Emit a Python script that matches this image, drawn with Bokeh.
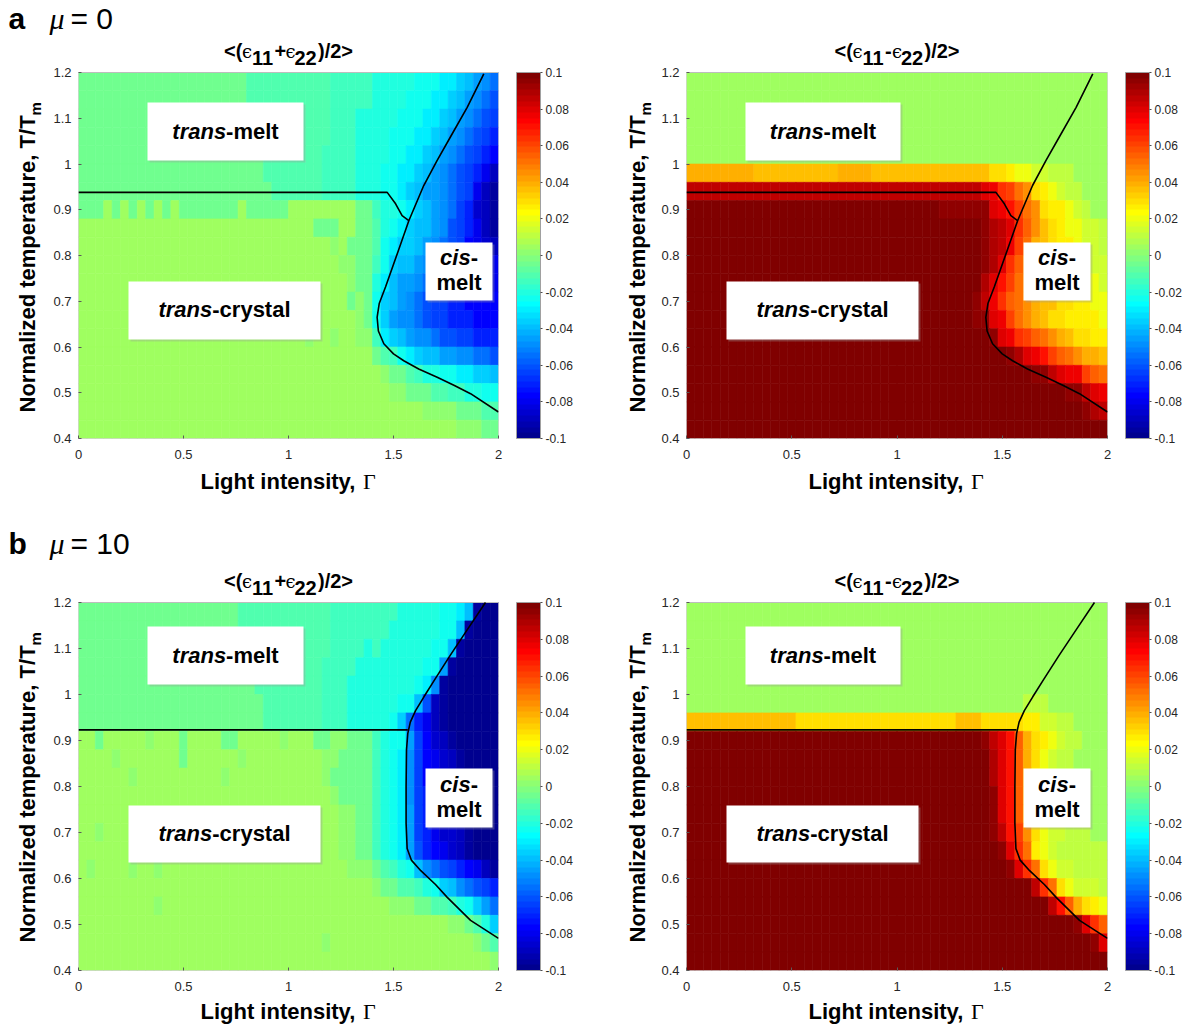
import math
from bokeh.plotting import figure
from bokeh.models import (LinearColorMapper, ColorBar, FixedTicker, Label,
                          ColumnDataSource, Range1d)
from bokeh.layouts import row, column
from bokeh.embed import file_html
from bokeh.resources import INLINE
from bokeh.core.properties import value

FONT = "Liberation Sans"
SHIFT = 0.35   # measured: an 'alphabetic' text lands this many em below the requested point

# ---------------------------------------------------------------- data
# grid: 50 columns of Gamma (0..2, step 0.04), 20 rows of T/Tm (1.2..0.4, step 0.04), top row first
G_MIN, G_MAX, G_STEP = 0.0, 2.0, 0.04
T_MIN, T_MAX, T_STEP = 0.4, 1.2, 0.04
# value code: index in CODE * 0.005 - 0.1   ('u' = 0, 'a' = -0.1, 'O' = +0.1)
CODE = "abcdefghijklmnopqrstuvwxyzABCDEFGHIJKLMNO"

SUM_MU0 = [
    "t"*20 + "s"*10 + "r"*5 + "qqqqqpppoonmlkj",
    "t"*20 + "s"*10 + "r"*5 + "qqqqpppoonmlkji",
    "t"*21 + "s"*9 + "r"*3 + "q"*2 + "qqqpppoonmlkjih",
    "t"*21 + "s"*9 + "r"*3 + "q"*2 + "qqpppoonmlkjihg",
    "t"*22 + "s"*7 + "r"*4 + "q"*2 + "qqppoonmlkjihgf",
    "t"*22 + "s"*7 + "r"*4 + "q"*2 + "qppoonmlkjihgec",
    "t"*23 + "s"*6 + "r"*4 + "q"*2 + "qpponmllkjihecb",
    "ttt" + "vt"*4 + "v" + "t"*7 + "v" + "t"*5 + "v"*8 + "tt" + "rqqponmlkjhgdcb",
    "v"*28 + "ttt" + "vv" + "tt" + "sqponmmlkihgecb",
    "v"*30 + "u" + "v" + "ttt" + "sponnmlkjihfedc",
    "v"*31 + "uu" + "tt" + "rpnmmlkjihggffe",
    "v"*32 + "u" + "tt" + "qomllkjihggfffe",
    "v"*32 + "tut" + "pnmlkjihhggffff",
    "v"*33 + "ut" + "pnlkkjihhgggfff",
    "v"*27 + "u" + "vv" + "u" + "vv" + "uu" + "ronmlkkjiihhggg",
    "v"*35 + "tsrponmmllkkjji",
    "v"*35 + "vuttsrqqppoonnm",
    "v"*35 + "vvuutttssrrqqpp",
    "v"*35 + "vvvvvvuuuutttss",
    "v"*35 + "vvvvvvvvvvuuutt",
]

DIFF_MU0 = [
    "v"*50,
    "v"*50,
    "v"*50,
    "v"*50,
    "v"*50,
    "C"*8 + "B"*10 + "C"*4 + "B"*13 + "BAAzyyxxwwwvvvv",
    "L"*35 + "KJHGEDAzyxwwvvv",
    "O"*30 + "N"*5 + "NKJIGEDAzzyxwvv",
    "O"*35 + "NMLKHFDBAzyyxxw",
    "O"*35 + "NMLJGECBAzzyxxw",
    "O"*35 + "NMKHFDCBAzzyyxx",
    "O"*35 + "MKIGEDCBAAzzyyx",
    "O"*34 + "N" + "LJHFEDCBBAAzzyy",
    "O"*34 + "N" + "NKJGEDCBAAzzzzy",
    "O"*35 + "ONKJHGFEDCBAAzz",
    "O"*35 + "OOONMKJIGFEDCCB",
    "O"*35 + "OOOOOONNLKJJGFE",
    "O"*35 + "OOOOOOOOOONNLKJ",
    "O"*35 + "OOOOOOOOOOOONML",
    "O"*50,
]

SUM_MU10 = [
    "t"*19 + "s"*11 + "r"*5 + "rrrqqqqqppombaa",
    "t"*19 + "s"*11 + "r"*5 + "rrqqqqqqppmbaaa",
    "t"*20 + "s"*10 + "r"*4 + "q" + "rqqqqqqppmbaaaa",
    "t"*20 + "s"*9 + "r"*4 + "q"*2 + "qqqqqqpplbaaaaa",
    "t"*21 + "s"*8 + "r"*3 + "q"*3 + "qqqqqpokbaaaaaa",
    "t"*22 + "s"*7 + "r"*3 + "q"*3 + "qqqppmicbaaaaaa",
    "t"*22 + "s"*7 + "r"*3 + "q"*3 + "qqpnjgecbaaaaaa",
    "vv" + "t" + "v"*5 + "u" + "v"*3 + "t" + "v"*4 + "tt" + "v"*5 + "u" + "v"*3 + "tt" + "uu" + "ttt" + "rqpplhfdcbaaaaa",
    "v"*4 + "u" + "v"*7 + "t" + "v"*6 + "u" + "v"*9 + "uu" + "tttt" + "rqpokhfedcbaaaa",
    "v"*6 + "u" + "v"*10 + "u" + "v"*11 + "u" + "t"*5 + "rqpokhfedcbaaaa",
    "v"*30 + "u" + "tttt" + "rqpokhgedcbaaaa",
    "v"*31 + "uu" + "tt" + "rqpolhgedcbbaaa",
    "vv" + "u" + "v"*28 + "uu" + "tt" + "rqpolhgeddcbaaa",
    "v"*31 + "uu" + "tt" + "rqpoligfedcbaaa",
    "v" + "u" + "v"*4 + "u" + "vv" + "u" + "v"*22 + "uuu" + "tsrqpmkjihgfecb",
    "v"*35 + "uttssrqpnmkjihg",
    "v"*9 + "u" + "v"*25 + "vvuuuttssrqpnlj",
    "v"*35 + "vvvvvvvvvuutsqn",
    "v"*29 + "u" + "v"*5 + "vvvvvvvvvvvvuts",
    "v"*35 + "vvvvvvvvvvvvvvu",
]

DIFF_MU10 = [
    "v"*50,
    "v"*50,
    "v"*50,
    "v"*50,
    "v"*50,
    "v"*35 + "vvvvvwwwvvvvvvv",
    "B"*13 + "A"*19 + "B"*3 + "AAAAAzzxxwwvvvv",
    "O"*35 + "NLKIFCAzyxwwvvv",
    "O"*35 + "OMKIFCAyxwwvvvv",
    "O"*35 + "OMKIFCzyxwwvvvv",
    "O"*35 + "ONKIFCzyxwwvvvv",
    "O"*35 + "ONKIFCzyxwwwvvv",
    "O"*35 + "ONLIGDAyxxwwwvv",
    "O"*35 + "OONKHEzyxwwwwww",
    "O"*35 + "OOONKHEAyxxwwww",
    "O"*35 + "OOOOOOLHEAyxxxw",
    "O"*35 + "OOOOOOOOLIFCAzy",
    "O"*35 + "OOOOOOOOOOONKHF",
    "O"*35 + "OOOOOOOOOOOOONK",
    "O"*50,
]

# phase boundaries (Gamma, T/Tm)
MU0_BOUND_G = [1.93, 1.851, 1.771, 1.708, 1.644, 1.573, 1.518, 1.462, 1.432, 1.422, 1.428, 1.454, 1.50, 1.549, 1.62, 1.708, 1.79, 1.867, 2.0]
MU0_BOUND_T = [1.197, 1.124, 1.059, 1.008, 0.953, 0.876, 0.804, 0.731, 0.695, 0.665, 0.635, 0.607, 0.585, 0.570, 0.552, 0.534, 0.516, 0.498, 0.458]
MU0_SPLIT_G = [0.0, 1.47, 1.51, 1.541, 1.573]
MU0_SPLIT_T = [0.938, 0.938, 0.913, 0.887, 0.876]

MU10_BOUND_G = [1.938, 1.85, 1.77, 1.70, 1.645, 1.605, 1.58, 1.568, 1.562, 1.560, 1.560, 1.565, 1.585, 1.63, 1.70, 1.756, 1.867, 2.0]
MU10_BOUND_T = [1.2, 1.14, 1.085, 1.035, 0.995, 0.965, 0.94, 0.915, 0.88, 0.80, 0.72, 0.665, 0.64, 0.617, 0.587, 0.559, 0.509, 0.47]
MU10_SPLIT_G = [0.0, 1.568]
MU10_SPLIT_T = [0.923, 0.923]

X_TICKS = [0, 0.5, 1, 1.5, 2]
X_TICK_LABELS = ["0", "0.5", "1", "1.5", "2"]
Y_TICKS = [0.4, 0.5, 0.6, 0.7, 0.8, 0.9, 1.0, 1.1, 1.2]
Y_TICK_LABELS = ["0.4", "0.5", "0.6", "0.7", "0.8", "0.9", "1", "1.1", "1.2"]
CB_TICKS = [-0.1, -0.08, -0.06, -0.04, -0.02, 0.0, 0.02, 0.04, 0.06, 0.08, 0.1]
CB_TICK_LABELS = ["-0.1", "-0.08", "-0.06", "-0.04", "-0.02", "0", "0.02", "0.04", "0.06", "0.08", "0.1"]


# ---------------------------------------------------------------- colormap (MATLAB jet, 64)
def jet(m=64):
    n = math.ceil(m / 4)
    u = [i / n for i in range(1, n + 1)] + [1.0] * (n - 1) + [i / n for i in range(n, 0, -1)]
    g0 = math.ceil(n / 2) - (1 if m % 4 == 1 else 0)
    R, G, B = [0.0] * m, [0.0] * m, [0.0] * m
    for k, uu in enumerate(u):
        gi = g0 + k + 1
        ri, bi = gi + n, gi - n
        if 1 <= ri <= m:
            R[ri - 1] = uu
        if 1 <= gi <= m:
            G[gi - 1] = uu
        if 1 <= bi <= m:
            B[bi - 1] = uu
    return ["#%02x%02x%02x" % (round(r * 255), round(g * 255), round(b * 255)) for r, g, b in zip(R, G, B)]


JET = jet(64)

BOLD_W = {"t": .333, "r": .389, "a": .556, "n": .611, "s": .556, "-": .333, "m": .889,
          "e": .556, "l": .278, "c": .556, "y": .556, "i": .278}


def tw(s, size):
    return sum(BOLD_W[ch] for ch in s) * size


def cells(rows):
    L, R, B, T, V = [], [], [], [], []
    for i, rw in enumerate(rows):
        assert len(rw) == 50, (i, len(rw))
        for j, ch in enumerate(rw):
            L.append(G_MIN + j * G_STEP)
            R.append(G_MIN + (j + 1) * G_STEP)
            T.append(T_MAX - i * T_STEP)
            B.append(T_MAX - (i + 1) * T_STEP)
            V.append(CODE.index(ch) * 0.005 - 0.1)
    return ColumnDataSource(dict(left=L, right=R, bottom=B, top=T, v=V))


def panel(rows, bound, split, geo, ftop, borders, boxes, sign, tbase):
    """geo = page px of the heat map (left, top, width, height); ftop = page px of frame top"""
    FL, FT, FW, FH = geo
    bl, br, bb = borders
    X = lambda px: (px - FL) / FW * (G_MAX - G_MIN)
    Y = lambda py: T_MAX - (py - FT) / FH * (T_MAX - T_MIN)
    y_end = Y(ftop)

    p = figure(frame_width=FW, frame_height=FT + FH - ftop, min_border_left=bl, min_border_right=br,
               min_border_top=0, min_border_bottom=bb,
               x_range=Range1d(G_MIN, G_MAX), y_range=Range1d(T_MIN, y_end),
               output_backend="svg", toolbar_location=None)
    p.grid.visible = False
    p.outline_line_color = None
    p.background_fill_color = "white"
    p.border_fill_color = "white"

    mapper = LinearColorMapper(palette=JET, low=-0.1, high=0.1)
    src = cells(rows)
    p.quad(left="left", right="right", bottom="bottom", top="top", source=src,
           fill_color={"field": "v", "transform": mapper},
           line_color={"field": "v", "transform": mapper}, line_width=0.6)
    p.quad(left=[G_MIN], right=[G_MAX], bottom=[T_MIN], top=[T_MAX],
           fill_color=None, line_color="#bdbdbd", line_width=1)

    p.line(bound[0], bound[1], line_color="black", line_width=1.6)
    p.line(split[0], split[1], line_color="black", line_width=1.6)

    for (x0, y0, x1, y1) in boxes["rects"]:
        p.quad(left=[X(x0 + 2)], right=[X(x1 + 2)], bottom=[Y(y1 + 2)], top=[Y(y0 + 2)],
               fill_color="#9a9a9a", fill_alpha=0.35, line_color=None)
        p.quad(left=[X(x0)], right=[X(x1)], bottom=[Y(y1)], top=[Y(y0)],
               fill_color="white", line_color=None)

    def lab(px, py, text, size, style="bold", align="left", font=FONT):
        p.add_layout(Label(x=X(px), y=Y(py - SHIFT * size), text=text, text_font_size=f"{size}px",
                           text_font_style=style, text_align=align, text_baseline="alphabetic",
                           text_font=font, text_color="black"))

    FS = 22
    for (cx, base, rest) in boxes["trans"]:
        word = "trans" + rest
        x0 = cx - tw(word, FS) / 2
        lab(x0, base, "trans", FS, "bold italic")
        lab(x0 + tw("trans", FS), base, rest, FS, "bold")
    cx, b1, b2 = boxes["cis"]
    x0 = cx - tw("cis-", FS) / 2
    lab(x0, b1, "cis", FS, "bold italic")
    lab(x0 + tw("cis", FS), b1, "-", FS, "bold")
    lab(cx, b2, "melt", FS, "bold", align="center")

    # panel title  <(eps_11 +/- eps_22)/2>
    pieces = [("<(", 18, "m"), ("\u03f5", 10, "e"), ("11", 22.5, "s"), (sign, 11 if sign == "+" else 7, "m"),
              ("\u03f5", 9, "e"), ("22", 23.5, "s"), (")/2>", 35, "m")]
    total = sum(w for _, w, _ in pieces)
    xx = FL + FW / 2 - total / 2
    for txt, w, kind in pieces:
        if kind == "m":
            lab(xx, tbase, txt, 20, "bold")
        elif kind == "e":
            lab(xx, tbase, txt, 18, "normal", font="DejaVu Serif")
        else:
            lab(xx, tbase + 7, txt, 20, "bold")
        xx += w

    for ax, ticks, labels in ((p.xaxis, X_TICKS, X_TICK_LABELS), (p.yaxis, Y_TICKS, Y_TICK_LABELS)):
        ax.ticker = FixedTicker(ticks=ticks)
        ax.major_label_overrides = {t: l for t, l in zip(ticks, labels)}
        ax.major_tick_in = 3
        ax.major_tick_out = 0
        ax.minor_tick_line_color = None
        ax.major_tick_line_color = "#5a5a5a"
        ax.axis_line_color = None
        ax.major_label_text_font = FONT
        ax.major_label_text_font_size = "13px"
        ax.major_label_text_color = "#262626"
    p.xaxis.major_label_standoff = 11
    p.yaxis.major_label_standoff = 7

    cb = ColorBar(color_mapper=mapper, width=24, height=FH, location=(FW + 18, 0),
                  padding=0, margin=0,
                  ticker=FixedTicker(ticks=CB_TICKS),
                  major_label_overrides={t: l for t, l in zip(CB_TICKS, CB_TICK_LABELS)},
                  major_label_text_font=FONT, major_label_text_font_size="12px",
                  major_label_text_color="#262626", label_standoff=3,
                  major_tick_in=0, major_tick_out=2, major_tick_line_color="#4d4d4d",
                  minor_tick_line_color=None, bar_line_color="#a0a0a0",
                  background_fill_alpha=0, border_line_color=None)
    p.add_layout(cb)
    return p


def canvas(ox, oy, w, h):
    """blank drawing area whose data units are page pixels (origin at its own top-left)"""
    c = figure(frame_width=w, frame_height=h, min_border=0, x_range=Range1d(0, w), y_range=Range1d(0, h),
               x_axis_type=None, y_axis_type=None, output_backend="svg", toolbar_location=None)
    c.outline_line_color = None
    c.background_fill_color = "white"
    c.border_fill_color = "white"

    def put(px, py, text, size, style="bold", font=FONT, align="left", angle=0.0):
        if angle == 0.0:
            py = py - SHIFT * size
        else:
            px = px - SHIFT * size
        c.text(x=[px - ox], y=[h - (py - oy)], text=[text], text_font=value(font),
               text_font_size=value(f"{size}px"), text_font_style=style, text_align=align,
               text_baseline="alphabetic", angle=angle, text_color="black")
    return c, put


def header(oy, h, letter, mu_val, base):
    c, put = canvas(0, oy, 1188, h)
    put(8, base, letter, 30, "bold")
    put(49, base, "\u03bc", 30, "italic", font="Liberation Serif")
    put(70, base, "= " + mu_val, 30, "normal")
    return c


def xlabels(oy, h, base):
    c, put = canvas(0, oy, 1188, h)
    for x0 in (200, 808):
        put(x0, base, "Light intensity,", 22, "bold")
        put(x0 + 162.5, base, "\u0393", 22, "normal", font="Liberation Serif")
    return c


def ylabel(ox, oy, w, h, xbase, ybottom):
    c, put = canvas(ox, oy, w, h)
    put(xbase, ybottom, "Normalized temperature, T/T", 22, "bold", angle=math.pi / 2)
    put(xbase + 5, ybottom - 297, "m", 15, "bold", angle=math.pi / 2)
    return c


# page-pixel geometry of the heat maps (left, top, width, height)
A_L = (78, 72, 420, 366)
A_R = (686, 72, 421, 366)
B_L = (78, 602, 420, 368)
B_R = (686, 602, 421, 368)

boxes_al = dict(rects=[(147, 102, 303, 160), (128, 281, 320, 339), (425, 242, 492, 300)],
                trans=[(225, 138.6, "-melt"), (224, 316.8, "-crystal")], cis=(458.5, 265, 290))
boxes_ar = dict(rects=[(745, 102, 900, 160), (726, 281, 918, 339), (1023, 242, 1090, 300)],
                trans=[(822.5, 138.6, "-melt"), (822, 316.8, "-crystal")], cis=(1056.5, 265, 290))
boxes_bl = dict(rects=[(147, 626, 303, 684), (128, 805, 320, 862), (425, 768, 492, 827)],
                trans=[(225, 662.7, "-melt"), (224, 840.7, "-crystal")], cis=(458.5, 791.5, 816.5))
boxes_br = dict(rects=[(745, 626, 900, 684), (726, 805, 918, 862), (1023, 768, 1090, 827)],
                trans=[(822.5, 662.7, "-melt"), (822, 840.7, "-crystal")], cis=(1056.5, 791.5, 816.5))

# row a : header 0-38, panels 38-468, x labels 468-520
hdrA = header(0, 38, "a", "0", 28.5)
p1 = panel(SUM_MU0, (MU0_BOUND_G, MU0_BOUND_T), (MU0_SPLIT_G, MU0_SPLIT_T), A_L, 38, (32, 100, 30), boxes_al, "+", 57.5)
p2 = panel(DIFF_MU0, (MU0_BOUND_G, MU0_BOUND_T), (MU0_SPLIT_G, MU0_SPLIT_T), A_R, 38, (32, 81, 30), boxes_ar, "-", 57.5)
ylA1 = ylabel(0, 38, 46, 430, 35, 412)
ylA2 = ylabel(598, 38, 56, 430, 645, 412)
xlA = xlabels(468, 52, 489)

# row b : header 520-564, panels 564-998, x labels 998-1028
hdrB = header(520, 44, "b", "10", 553)
p3 = panel(SUM_MU10, (MU10_BOUND_G, MU10_BOUND_T), (MU10_SPLIT_G, MU10_SPLIT_T), B_L, 564, (32, 100, 28), boxes_bl, "+", 587.5)
p4 = panel(DIFF_MU10, (MU10_BOUND_G, MU10_BOUND_T), (MU10_SPLIT_G, MU10_SPLIT_T), B_R, 564, (32, 81, 28), boxes_br, "-", 587.5)
ylB1 = ylabel(0, 564, 46, 434, 35, 942)
ylB2 = ylabel(598, 564, 56, 434, 645, 942)
xlB = xlabels(998, 30, 1019)

layout = column(hdrA, row(ylA1, p1, ylA2, p2), xlA,
                hdrB, row(ylB1, p3, ylB2, p4), xlB)
open("out.html", "w").write(file_html(layout, INLINE))
